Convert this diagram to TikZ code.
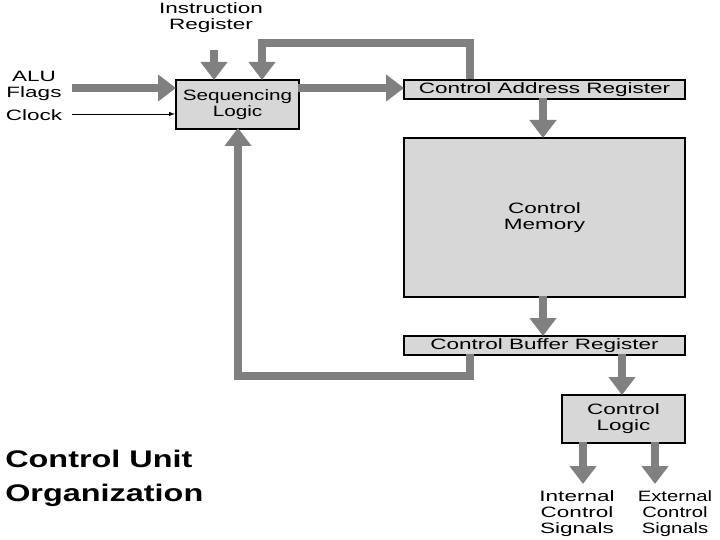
\documentclass[tikz,border=0pt]{standalone}
\usepackage{fontspec}
\setmainfont{Liberation Sans}
\usetikzlibrary{arrows.meta}
\begin{document}
\begin{tikzpicture}[x=1pt,y=-1pt,
  box/.style={draw=black,line width=2pt,fill={rgb,255:red,215;green,215;blue,215},inner sep=0pt},
  garr/.style={draw={rgb,255:red,128;green,128;blue,128},line width=8pt,-{Triangle[length=18pt,width=26pt]}},
  gline/.style={draw={rgb,255:red,128;green,128;blue,128},line width=8pt},
  lbl/.style={font=\fontsize{15}{16}\selectfont,align=center,inner sep=0pt,transform shape,xscale=1.5}]
\useasboundingbox (0,0) rectangle (720,540);
\node[box,minimum width=123pt,minimum height=49pt,anchor=north west] (seq) at (175,79) {};
\node[lbl,xscale=0.92] at (seq.center) {Sequencing\\Logic};
\node[box,minimum width=281pt,minimum height=19pt,anchor=north west] (car) at (403,79) {};
\node[lbl] at (car.center) {Control Address Register};
\node[box,minimum width=281pt,minimum height=159pt,anchor=north west] (cm) at (403,137) {};
\node[lbl] at (cm.center) {Control\\Memory};
\node[box,minimum width=281pt,minimum height=19pt,anchor=north west] (cbr) at (403,335) {};
\node[lbl] at (cbr.center) {Control Buffer Register};
\node[box,minimum width=123pt,minimum height=48pt,anchor=north west] (cl) at (561,394) {};
\node[lbl] at (cl.center) {Control\\Logic};
\node[lbl] (ir) at (211,18) {Instruction\\Register};
\node[lbl] (alu) at (34,86) {ALU\\Flags};
\node[lbl] (clk) at (34,115) {Clock};
\node[lbl] (ics) at (577,514) {Internal\\Control\\Signals};
\node[lbl,xscale=0.9] (ecs) at (675,514) {External\\Control\\Signals};
\node[font=\fontsize{24}{34}\selectfont\bfseries,align=left,anchor=north west,inner sep=0pt,transform shape,xscale=1.35] (title) at (5,450) {Control Unit\\Organization};
\coordinate (irs) at (214,50);
\draw[garr] (irs) -- (214,80);
\coordinate (alus) at (72,88);
\draw[garr] (alus) -- (176,88);
\coordinate (clks) at (72,114);
\draw[-{Latex[length=6pt]},line width=0.8pt] (clks) -- (175,114);
\draw[garr] (298,88) -- (404,88);
\draw[gline] (470,79) -- (470,43) -- (262,43);
\draw[garr] (262,39) -- (262,80);
\draw[garr] (543,98) -- (543,138);
\draw[garr] (543,296) -- (543,336);
\draw[gline] (470,354) -- (470,376) -- (238,376);
\draw[garr] (238,380) -- (238,128);
\draw[garr] (622,354) -- (622,395);
\draw[garr] (583,442) -- (583,484);
\draw[garr] (655,442) -- (655,484);
\end{tikzpicture}
\end{document}
